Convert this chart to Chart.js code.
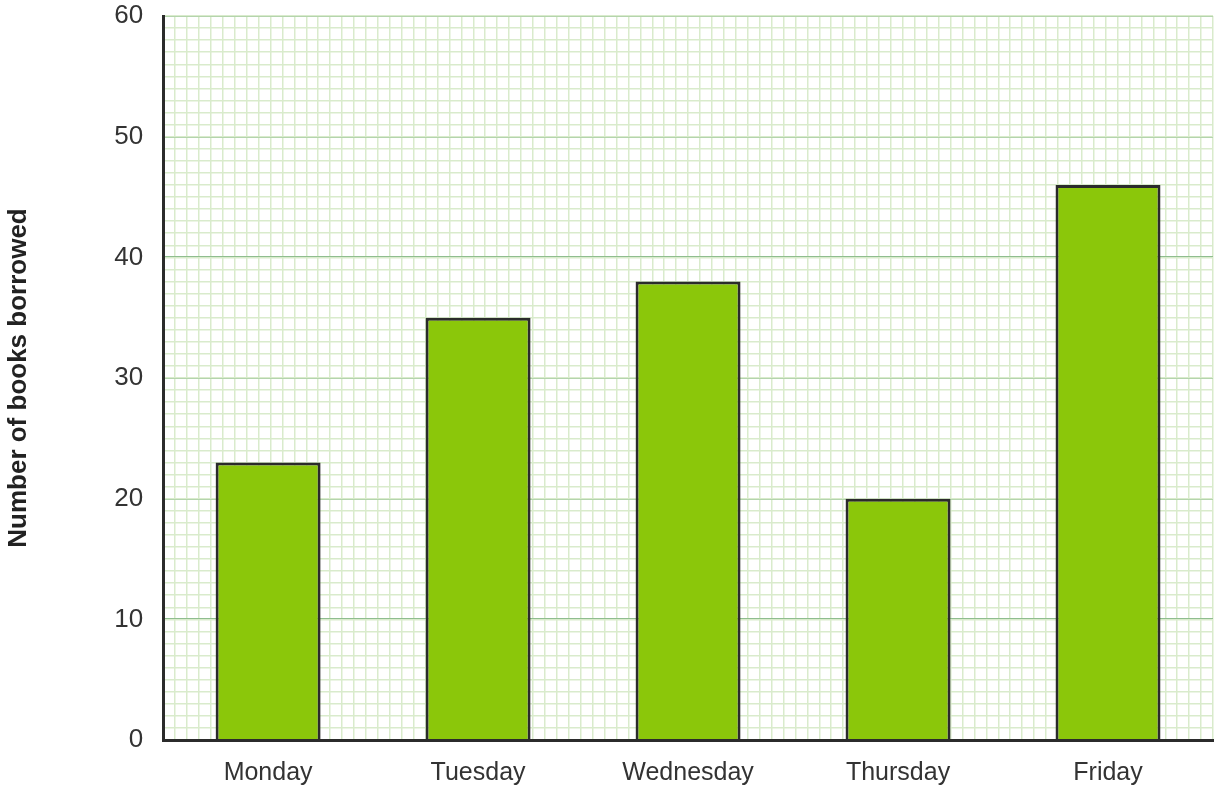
<!DOCTYPE html>
<html>
<head>
<meta charset="utf-8">
<script src="https://cdn.jsdelivr.net/npm/chart.js@4"></script>
<style>
  html, body { margin: 0; padding: 0; background: #fff; }
  #wrap { width: 1220px; height: 791px; }
</style>
</head>
<body>
<div id="wrap"><canvas id="myChart"></canvas></div>
<script>
const days = ["Monday", "Tuesday", "Wednesday", "Thursday", "Friday"];
const booksBorrowed = [23, 35, 38, 20, 46];
const yTicks = [0, 10, 20, 30, 40, 50, 60];
const yTitle = "Number of books borrowed";

const font = "'Liberation Sans', Arial, sans-serif";

const ctx = document.getElementById("myChart").getContext("2d");

const chart = new Chart(ctx, {
  type: "bar",
  data: {
    labels: days,
    datasets: [
      {
        label: yTitle,
        data: booksBorrowed,
        backgroundColor: "#8bc70a",
        borderColor: "#2b2b2b",
        borderWidth: 3,
        barPercentage: 0.5,
        categoryPercentage: 1,
      },
    ],
  },
  options: {
    responsive: true,
    maintainAspectRatio: false,
    animation: false,
    layout: { padding: { left: 3, top: 0, right: 7, bottom: -7 } },
    plugins: {
      legend: { display: false },
      tooltip: { enabled: false },
    },
    scales: {
      x: {
        grid: { display: false },
        border: { display: true, color: "#2b2b2b", width: 3 },
        ticks: { color: "#333", font: { family: font, size: 25 }, padding: 10 },
      },
      // minor vertical grid
      xMinor: {
        type: "linear",
        position: "bottom",
        min: 0,
        max: 87,
        z: -2,
        afterFit: (s) => { s.height = 0; },
        ticks: { display: false, stepSize: 1 },
        grid: { color: "#d9ebcc", lineWidth: 1.5, drawTicks: false },
        border: { display: false },
      },
      y: {
        min: 0,
        max: 60,
        z: -1,
        afterBuildTicks: (scale) => {
          scale.ticks = yTicks.map((v) => ({ value: v }));
        },
        afterFit: (s) => { s.paddingTop = 16; },
        ticks: { color: "#333", font: { family: font, size: 26 }, padding: 20 },
        grid: { color: "#8fbd8f", lineWidth: 2, drawTicks: false },
        border: { display: true, color: "#2b2b2b", width: 3 },
        title: {
          display: true,
          text: yTitle,
          color: "#222",
          font: { family: font, size: 26, weight: "bold" },
          padding: { top: 0, bottom: 60 },
        },
      },
      // minor horizontal grid
      yMinor: {
        type: "linear",
        position: "right",
        min: 0,
        max: 60,
        z: -2,
        afterFit: (s) => { s.width = 0; },
        ticks: { display: false, stepSize: 1 },
        grid: { color: "#d9ebcc", lineWidth: 1.5, drawTicks: false },
        border: { display: false },
      },
    },
  },
});
</script>
</body>
</html>
